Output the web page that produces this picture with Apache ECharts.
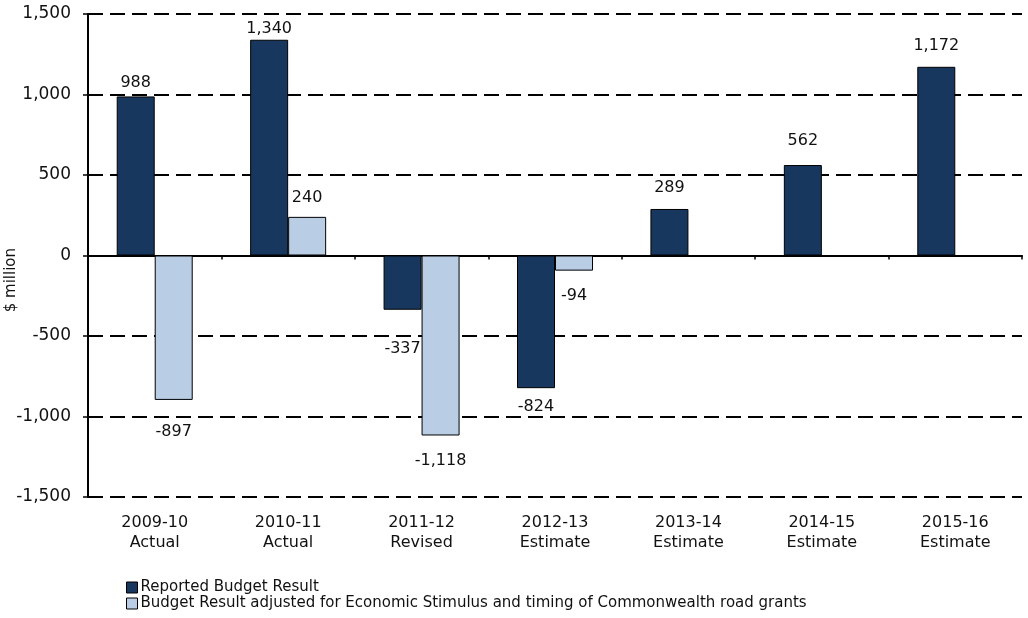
<!DOCTYPE html>
<html>
<head>
<meta charset="utf-8">
<script src="https://cdn.jsdelivr.net/npm/echarts@6/dist/echarts.min.js"></script>
<style>
  html, body { margin: 0; padding: 0; background: #fff; }
  #chart { width: 1028px; height: 618px; }
</style>
</head>
<body>
<div id="chart"></div>
<script>
// 分类与数据
var categories = ['2009-10\nActual', '2010-11\nActual', '2011-12\nRevised', '2012-13\nEstimate',
  '2013-14\nEstimate', '2014-15\nEstimate', '2015-16\nEstimate']
var reported = [988, 1340, -337, -824, 289, 562, 1172]
var adjusted = [-897, 240, -1118, -94, null, null, null]
var seriesNames = ['Reported Budget Result',
  'Budget Result adjusted for Economic Stimulus and timing of Commonwealth road grants']
var yTicks = [-1500, -1000, -500, 0, 500, 1000, 1500]

var FONT = '"DejaVu Sans", Verdana, sans-serif'
// 标签与柱子之间的距离（原图标签为手动摆放）
var reportedLabelGap = [6, 3, 31, 11, 13, 16, 13]
var adjustedLabelGap = [24, 11, 17, 17, 0, 0, 0]

function fmt(v) {
  return echarts.format.addCommas(v)
}

/**
 * 数据标签：正值在上，负值在下
 */
function withLabels(arr, gaps) {
  return arr.map(function (v, i) {
    if (v === null) return null
    return {
      value: v,
      label: { position: v >= 0 ? 'top' : 'bottom', distance: gaps[i] }
    }
  })
}

function barSeries(name, arr, gaps, color) {
  return {
    name: name,
    type: 'bar',
    data: withLabels(arr, gaps),
    barWidth: 38,
    barGap: 0,
    itemStyle: { color: color, borderColor: '#000', borderWidth: 1 },
    label: {
      show: true,
      color: '#111',
      fontFamily: FONT,
      fontSize: 16,
      formatter: function (p) { return fmt(p.value) }
    }
  }
}

var myChart = echarts.init(document.getElementById('chart'))
var option = {
  backgroundColor: '#fff',
  animation: false,
  grid: { left: 88, right: 6, top: 14, bottom: 121 },
  legend: {
    orient: 'vertical',
    left: 121,
    top: 575,
    itemWidth: 11,
    itemHeight: 11,
    itemGap: 1,
    icon: 'rect',
    itemStyle: { borderColor: '#000', borderWidth: 1 },
    textStyle: { color: '#111', fontFamily: FONT, fontSize: 15, padding: [0, 0, 0, -2] },
    data: seriesNames
  },
  graphic: [{
    type: 'text',
    left: 4,
    top: 248,
    rotation: Math.PI / 2,
    style: { text: '$ million', fill: '#111', font: '15px ' + FONT }
  }],
  xAxis: [{
    type: 'category',
    data: categories,
    axisLine: { show: false, onZero: false },
    axisTick: { show: false },
    axisLabel: { color: '#111', fontFamily: FONT, fontSize: 16, lineHeight: 20, margin: 16 }
  }, {
    type: 'category',
    data: categories,
    position: 'bottom',
    axisLine: { show: true, onZero: true, lineStyle: { color: '#000', width: 2 } },
    axisTick: { show: true, length: 4, inside: false, lineStyle: { color: '#000', width: 1.5 } },
    axisLabel: { show: false }
  }],
  yAxis: {
    type: 'value',
    min: yTicks[0],
    max: yTicks[yTicks.length - 1],
    interval: 500,
    axisLine: { show: true, lineStyle: { color: '#000', width: 2 } },
    axisTick: { show: true, length: 5, lineStyle: { color: '#000', width: 1.5 } },
    axisLabel: {
      color: '#111',
      fontFamily: FONT,
      fontSize: 17,
      margin: 17,
      formatter: function (v) { return fmt(v) }
    },
    splitLine: { show: true, lineStyle: { color: '#000', width: 1.8, type: [15, 7] } }
  },
  series: [
    barSeries(seriesNames[0], reported, reportedLabelGap, '#17375E'),
    barSeries(seriesNames[1], adjusted, adjustedLabelGap, '#B9CDE5')
  ]
}
myChart.setOption(option)
</script>
</body>
</html>
